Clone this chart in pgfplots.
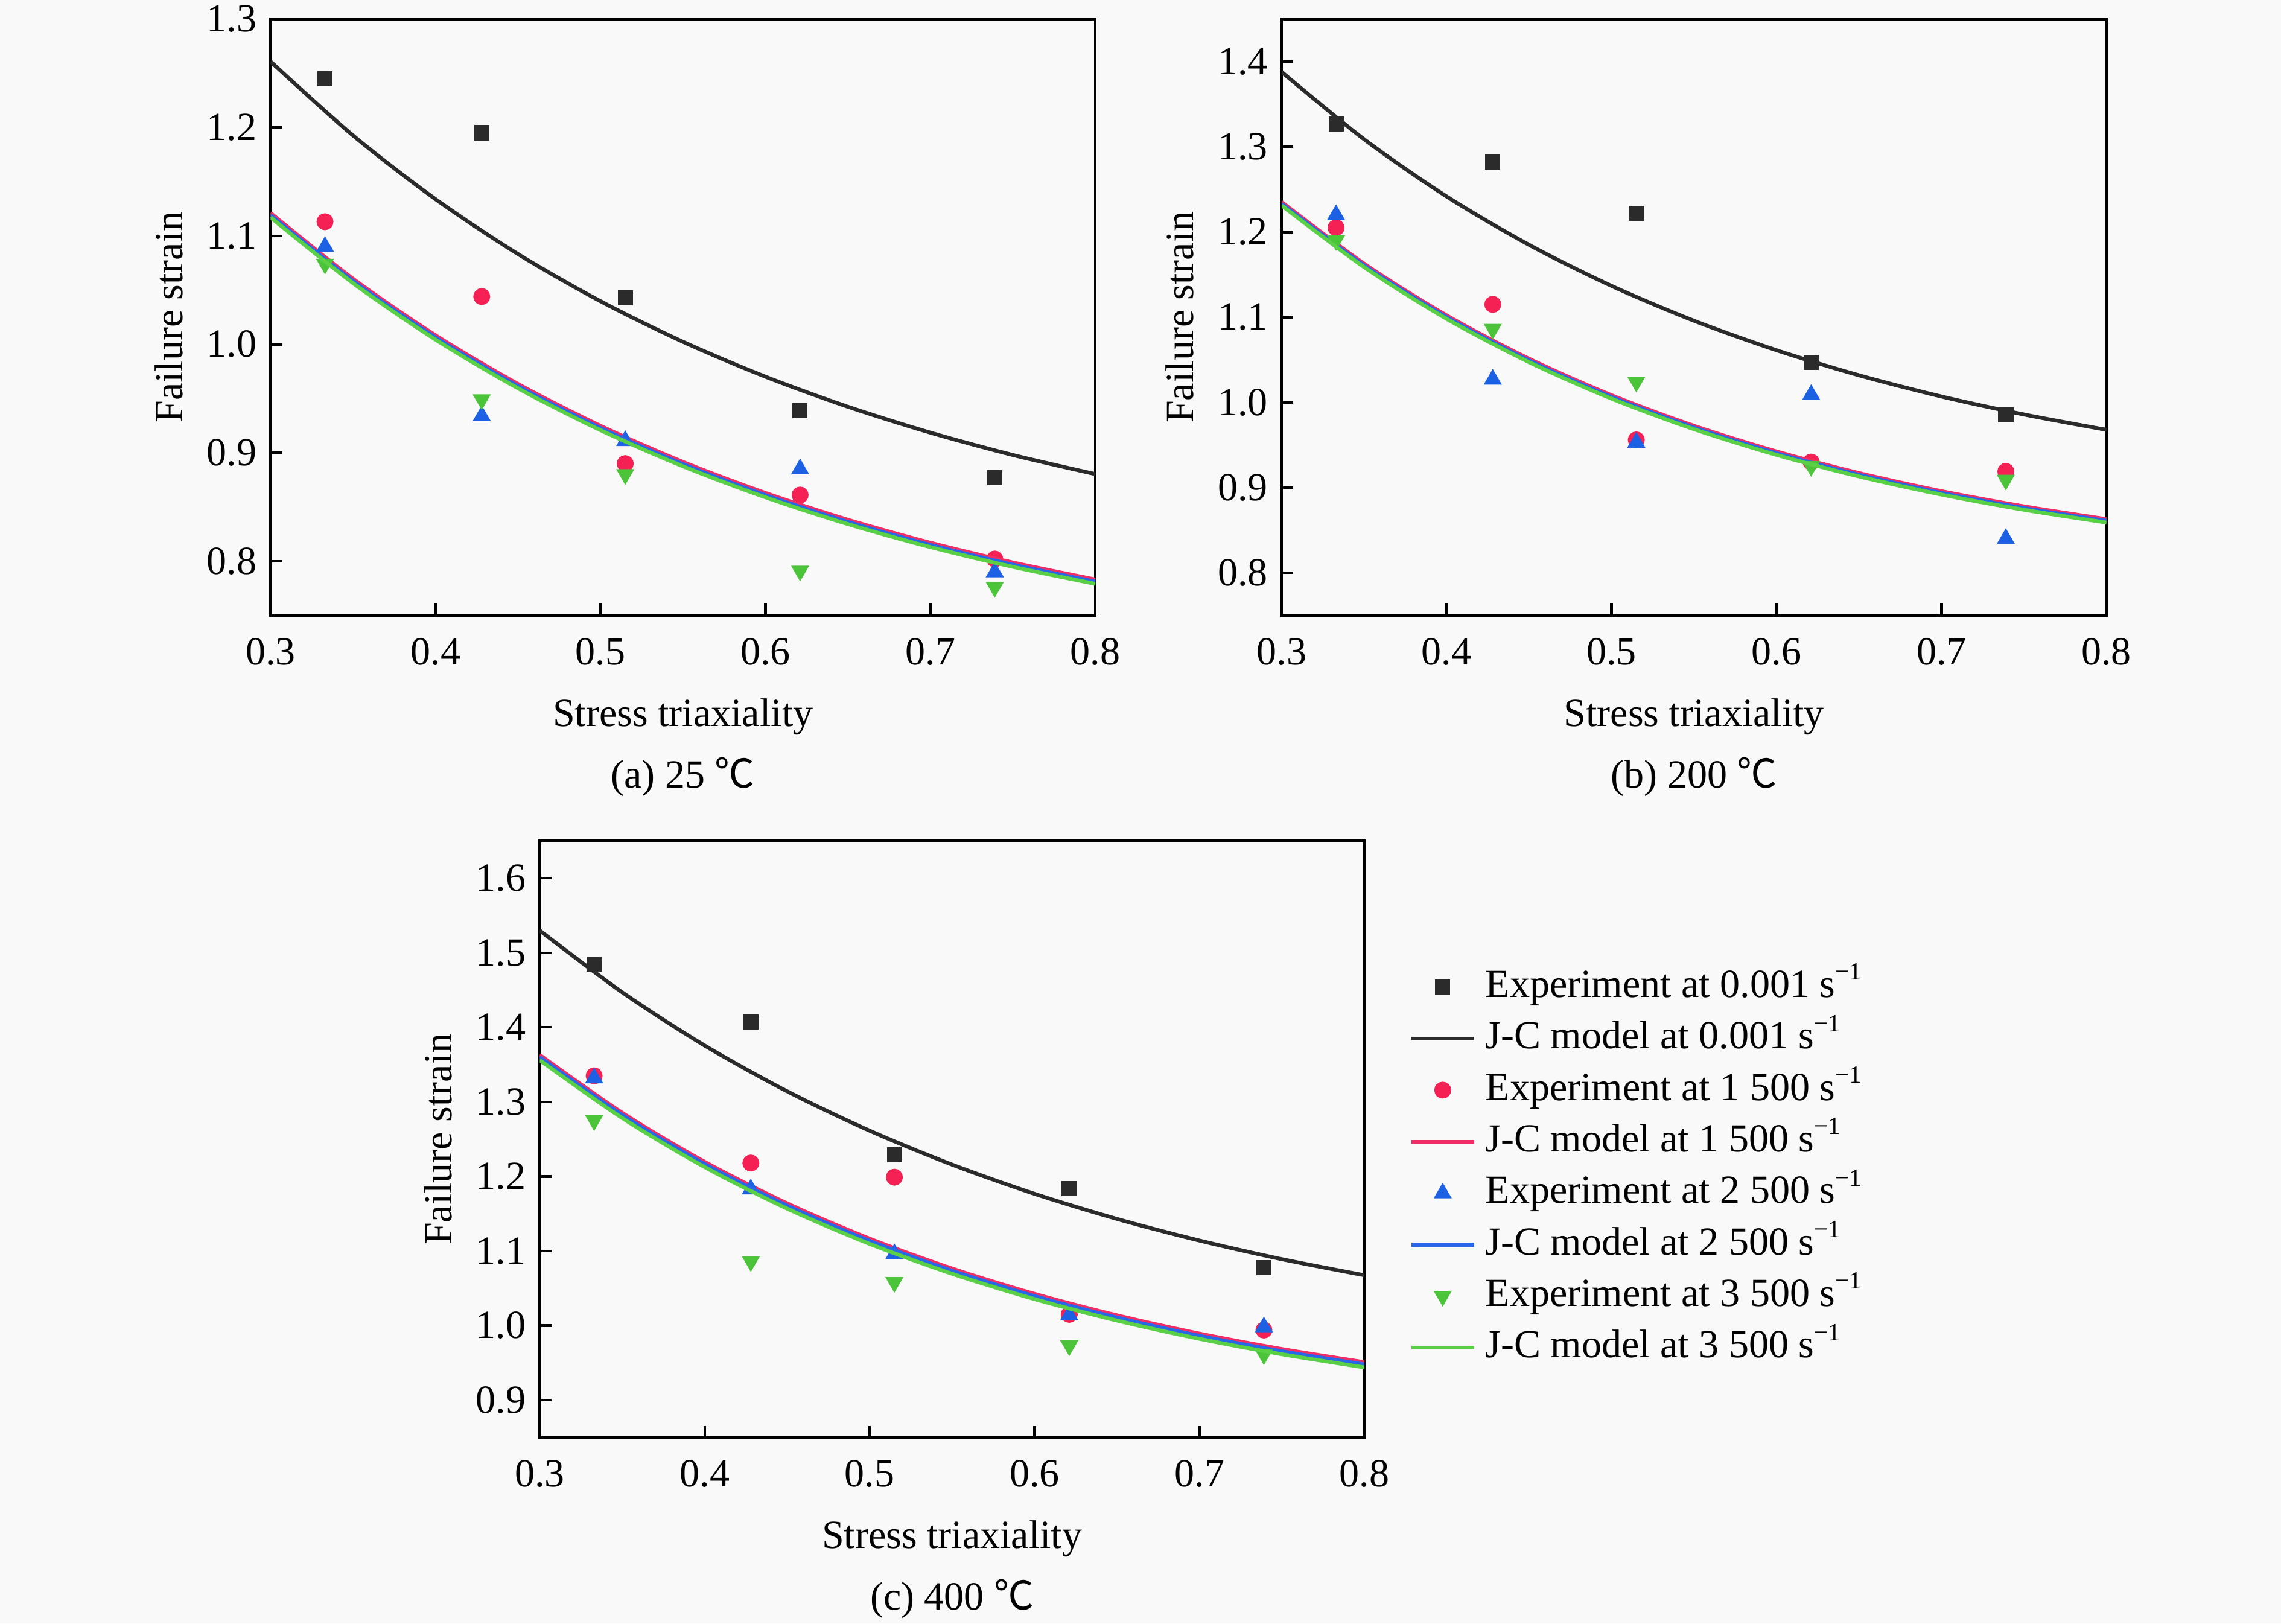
\documentclass[border=0pt]{standalone}
\usepackage{fontspec}
\setmainfont{Liberation Serif}
\newfontfamily\cjk{Noto Sans CJK SC}
\usepackage{pgfplots}
\pgfplotsset{compat=1.18}

\definecolor{bg}{RGB}{249,249,249}
\definecolor{cblk}{RGB}{43,43,43}
\definecolor{cred}{RGB}{245,32,84}
\definecolor{cblu}{RGB}{28,96,228}
\definecolor{cgrn}{RGB}{76,196,58}
\definecolor{lred}{RGB}{242,44,100}
\definecolor{lblu}{RGB}{40,104,232}
\definecolor{lgrn}{RGB}{90,208,70}

\newcommand{\inv}{s\raisebox{0.95ex}{\fontsize{8.5}{9}\selectfont −1}}

\pgfplotsset{
  panel/.style={
    scale only axis, width=283.5pt, height=205pt,
    clip mode=individual,
    xmin=0.3, xmax=0.8, xtick={0.3,0.4,0.5,0.6,0.7,0.8},
    tick align=inside, xtick pos=left, ytick pos=left,
    major tick length=4pt,
    axis line style={line width=0.9pt, black},
    every tick/.style={line width=0.9pt, black},
    xticklabel style={yshift=-3pt, /pgf/number format/fixed, /pgf/number format/fixed zerofill, /pgf/number format/precision=1},
    yticklabel style={/pgf/number format/fixed, /pgf/number format/fixed zerofill, /pgf/number format/precision=1},
    /pgf/number format/assume math mode=true,
    xlabel={Stress triaxiality}, ylabel={Failure strain},
    xlabel style={at={(axis description cs:0.5,-0.17)}, anchor=center},
    ylabel style={at={(axis description cs:-0.1235,0.5)}, anchor=center},
    legend image code/.code={\draw[mark repeat=2,mark phase=2,##1] plot coordinates {(0pt,0pt) (10.75pt,0pt) (21.5pt,0pt)};},
  },
  eblk/.style={only marks, mark=square*, color=cblk, mark size=2.4pt},
  ered/.style={only marks, mark=*, color=cred, mark size=2.7pt},
  eblu/.style={only marks, mark=triangle*, color=cblu, mark size=3.2pt},
  egrn/.style={only marks, mark=triangle*, mark options={rotate=180}, color=cgrn, mark size=3.2pt},
  jblk/.style={no marks, smooth, color=cblk, line width=1.3pt},
  jred/.style={no marks, smooth, color=lred, line width=1.3pt},
  jblu/.style={no marks, smooth, color=lblu, line width=1.3pt},
  jgrn/.style={no marks, smooth, color=lgrn, line width=1.3pt},
}

\begin{document}
\fontsize{13.7}{16.4}\selectfont
\begin{tikzpicture}
\fill[bg] (0,0) rectangle (784pt,558pt);
\useasboundingbox (0,0) rectangle (784pt,558pt);

% (a) 25 C
\begin{axis}[panel, at={(93pt,346.5pt)}, anchor=south west,
  ymin=0.75, ymax=1.3, ytick={0.8,0.9,1.0,1.1,1.2,1.3}]
\addplot[eblk] coordinates {(0.333,1.245) (0.428,1.195) (0.515,1.043) (0.621,0.939) (0.739,0.877)};
\addplot[jblk] coordinates {(0.30,1.2607) (0.35,1.1925) (0.40,1.1338) (0.45,1.0832) (0.50,1.0397) (0.55,1.0023) (0.60,0.9701) (0.65,0.9424) (0.70,0.9185) (0.75,0.8979) (0.80,0.8803)};
\addplot[ered] coordinates {(0.333,1.113) (0.428,1.044) (0.515,0.890) (0.621,0.861) (0.739,0.802)};
\addplot[jred] coordinates {(0.30,1.1210) (0.35,1.0604) (0.40,1.0083) (0.45,0.9634) (0.50,0.9248) (0.55,0.8915) (0.60,0.8629) (0.65,0.8382) (0.70,0.8170) (0.75,0.7988) (0.80,0.7831)};
\addplot[eblu] coordinates {(0.333,1.090) (0.428,0.934) (0.515,0.911) (0.621,0.885) (0.739,0.790)};
\addplot[jblu] coordinates {(0.30,1.1190) (0.35,1.0584) (0.40,1.0063) (0.45,0.9614) (0.50,0.9228) (0.55,0.8895) (0.60,0.8609) (0.65,0.8362) (0.70,0.8150) (0.75,0.7968) (0.80,0.7811)};
\addplot[egrn] coordinates {(0.333,1.074) (0.428,0.949) (0.515,0.880) (0.621,0.791) (0.739,0.776)};
\addplot[jgrn] coordinates {(0.30,1.1170) (0.35,1.0564) (0.40,1.0043) (0.45,0.9594) (0.50,0.9208) (0.55,0.8875) (0.60,0.8589) (0.65,0.8342) (0.70,0.8130) (0.75,0.7948) (0.80,0.7791)};
\node at (axis description cs:0.5,-0.271) {(a) 25 {\cjk ℃}};
\end{axis}

% (b) 200 C
\begin{axis}[panel, at={(440.5pt,346.5pt)}, anchor=south west,
  ymin=0.75, ymax=1.45, ytick={0.8,0.9,1.0,1.1,1.2,1.3,1.4}]
\addplot[eblk] coordinates {(0.333,1.327) (0.428,1.282) (0.515,1.222) (0.621,1.047) (0.739,0.985)};
\addplot[jblk] coordinates {(0.30,1.3878) (0.35,1.3088) (0.40,1.2417) (0.45,1.1849) (0.50,1.1367) (0.55,1.0958) (0.60,1.0612) (0.65,1.0318) (0.70,1.0069) (0.75,0.9858) (0.80,0.9678)};
\addplot[ered] coordinates {(0.333,1.205) (0.428,1.115) (0.515,0.956) (0.621,0.930) (0.739,0.919)};
\addplot[jred] coordinates {(0.30,1.2351) (0.35,1.1628) (0.40,1.1021) (0.45,1.0512) (0.50,1.0084) (0.55,0.9725) (0.60,0.9424) (0.65,0.9171) (0.70,0.8958) (0.75,0.8780) (0.80,0.8630)};
\addplot[eblu] coordinates {(0.333,1.220) (0.428,1.027) (0.515,0.953) (0.621,1.009) (0.739,0.840)};
\addplot[jblu] coordinates {(0.30,1.2331) (0.35,1.1608) (0.40,1.1001) (0.45,1.0492) (0.50,1.0064) (0.55,0.9705) (0.60,0.9404) (0.65,0.9151) (0.70,0.8938) (0.75,0.8760) (0.80,0.8610)};
\addplot[egrn] coordinates {(0.333,1.190) (0.428,1.086) (0.515,1.024) (0.621,0.925) (0.739,0.909)};
\addplot[jgrn] coordinates {(0.30,1.2311) (0.35,1.1588) (0.40,1.0981) (0.45,1.0472) (0.50,1.0044) (0.55,0.9685) (0.60,0.9384) (0.65,0.9131) (0.70,0.8918) (0.75,0.8740) (0.80,0.8590)};
\node at (axis description cs:0.5,-0.271) {(b) 200 {\cjk ℃}};
\end{axis}

% (c) 400 C
\begin{axis}[panel, at={(185.5pt,64pt)}, anchor=south west,
  ymin=0.85, ymax=1.65, ytick={0.9,1.0,1.1,1.2,1.3,1.4,1.5,1.6},
  legend style={draw=none, fill=none, inner sep=0pt, outer sep=0pt,
    at={(1.0546,0.7866)}, anchor=north west,
    row sep=4.7pt, column sep=3.3pt,
    nodes={inner sep=0pt, outer sep=0pt, text height=10pt, text depth=3pt}},
  legend cell align=left]
\addplot[eblk] coordinates {(0.333,1.485) (0.428,1.407) (0.515,1.229) (0.621,1.184) (0.739,1.078)};
\addlegendentry{Experiment at 0.001 \inv}
\addplot[jblk] coordinates {(0.30,1.5299) (0.35,1.4470) (0.40,1.3756) (0.45,1.3142) (0.50,1.2614) (0.55,1.2159) (0.60,1.1767) (0.65,1.1430) (0.70,1.1140) (0.75,1.0890) (0.80,1.0675)};
\addlegendentry{J-C model at 0.001 \inv}
\addplot[ered] coordinates {(0.333,1.335) (0.428,1.218) (0.515,1.199) (0.621,1.015) (0.739,0.994)};
\addlegendentry{Experiment at 1 500 \inv}
\addplot[jred] coordinates {(0.30,1.3630) (0.35,1.2854) (0.40,1.2196) (0.45,1.1639) (0.50,1.1166) (0.55,1.0765) (0.60,1.0425) (0.65,1.0137) (0.70,0.9892) (0.75,0.9685) (0.80,0.9509)};
\addlegendentry{J-C model at 1 500 \inv}
\addplot[eblu] coordinates {(0.333,1.332) (0.428,1.183) (0.515,1.096) (0.621,1.014) (0.739,0.998)};
\addlegendentry{Experiment at 2 500 \inv}
\addplot[jblu] coordinates {(0.30,1.3600) (0.35,1.2824) (0.40,1.2166) (0.45,1.1609) (0.50,1.1136) (0.55,1.0735) (0.60,1.0395) (0.65,1.0107) (0.70,0.9862) (0.75,0.9655) (0.80,0.9479)};
\addlegendentry{J-C model at 2 500 \inv}
\addplot[egrn] coordinates {(0.333,1.275) (0.428,1.086) (0.515,1.058) (0.621,0.973) (0.739,0.961)};
\addlegendentry{Experiment at 3 500 \inv}
\addplot[jgrn] coordinates {(0.30,1.3560) (0.35,1.2784) (0.40,1.2126) (0.45,1.1569) (0.50,1.1096) (0.55,1.0695) (0.60,1.0355) (0.65,1.0067) (0.70,0.9822) (0.75,0.9615) (0.80,0.9439)};
\addlegendentry{J-C model at 3 500 \inv}
\node at (axis description cs:0.5,-0.271) {(c) 400 {\cjk ℃}};
\end{axis}
\end{tikzpicture}
\end{document}
